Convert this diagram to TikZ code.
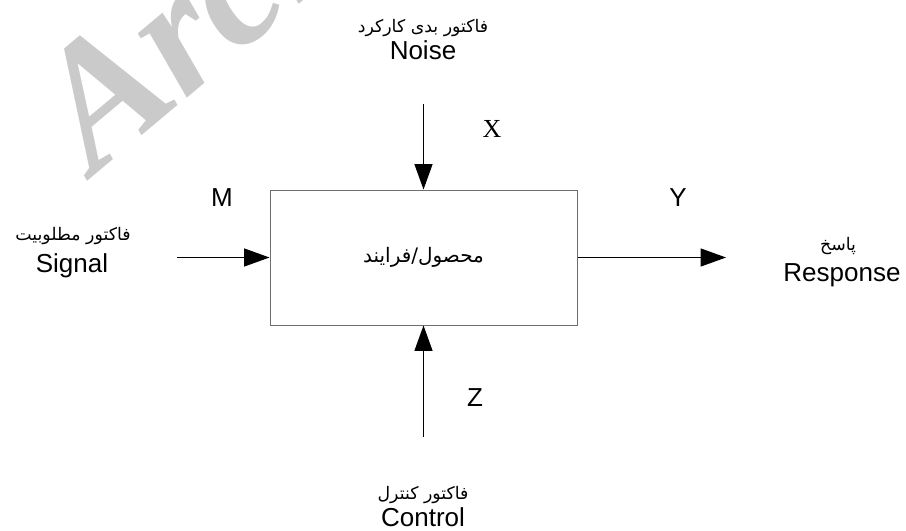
\documentclass[tikz,border=0pt]{standalone}
\usepackage{fontspec}
\setmainfont{Liberation Sans}
\newfontfamily\serifX{Liberation Serif}
\newfontfamily\farsi[Script=Arabic]{DejaVu Sans}
\TeXXeTstate=1
\usepackage{xcolor}
\definecolor{wgray}{HTML}{CACACA}
\definecolor{bgray}{HTML}{6E6E6E}
\usepackage{tikz}
\usetikzlibrary{arrows.meta,positioning}

\newcommand{\rtl}[1]{\beginR #1\endR}

\tikzset{
  flow/.style={line width=0.75pt, -{Triangle[length=19pt,width=13.5pt]}},
  lat/.style={font=\fontsize{19.5}{22}\selectfont, inner sep=0pt, anchor=base},
  latx/.style={font=\serifX\fontsize{19.5}{22}\selectfont, inner sep=0pt, anchor=base},
  fa/.style={font=\farsi\fontsize{13}{16}\selectfont, inner sep=0pt, anchor=base},
  procbox/.style={draw=bgray, line width=0.75pt, inner sep=0pt,
    minimum width=230.25pt, minimum height=101.25pt,
    font=\farsi\fontsize{15}{18}\selectfont},
  wmark/.style={text=wgray, inner sep=0pt, anchor=base west, rotate=40,
    font=\serifX\bfseries\itshape\fontsize{132}{132}\selectfont},
}

\begin{document}
\begin{tikzpicture}[x=0.75pt,y=-0.75pt]
  % Define the canvas
  \useasboundingbox (0,0) rectangle (906,531);

  % Watermark in the back
  \begin{scope}
    \clip (0,0) rectangle (906,531);
    \node[wmark] (wm) at (94,176) {Arch};
  \end{scope}

  % The product / process block
  \node[procbox] (proc) at (423.5,257.5) {\rtl{محصول/فرایند}};

  % Free ends of the arrows
  \coordinate (noisein) at (423.5,104);
  \coordinate (signalin) at (177,257.5);
  \coordinate (respout) at (726,257.5);
  \coordinate (ctrlin) at (423.5,437);

  % Draw the arrows
  \draw[flow] (noisein) -- (proc.north);
  \draw[flow] (signalin) -- (proc.west);
  \draw[flow] (proc.east) -- (respout);
  \draw[flow] (ctrlin) -- (proc.south);

  % Noise (top)
  \node[fa] (noisefa) at (423,33) {\rtl{فاکتور بدی کارکرد}};
  \node[lat] (noise) at (423,60) {Noise};
  \node[latx] (xlab) at (492,138) {X};

  % Signal (left)
  \node[fa] (signalfa) at (73,240) {\rtl{فاکتور مطلوبیت}};
  \node[lat] (signal) at (72,272) {Signal};
  \node[lat] (mlab) at (222,206) {M};

  % Response (right)
  \node[fa] (respfa) at (838,250) {\rtl{پاسخ}};
  \node[lat] (resp) at (842,281) {Response};
  \node[lat] (ylab) at (678,206) {Y};

  % Control (bottom)
  \node[fa] (ctrlfa) at (423,499) {\rtl{فاکتور کنترل}};
  \node[lat] (ctrl) at (423,526) {Control};
  \node[lat] (zlab) at (475,406) {Z};
\end{tikzpicture}
\end{document}
